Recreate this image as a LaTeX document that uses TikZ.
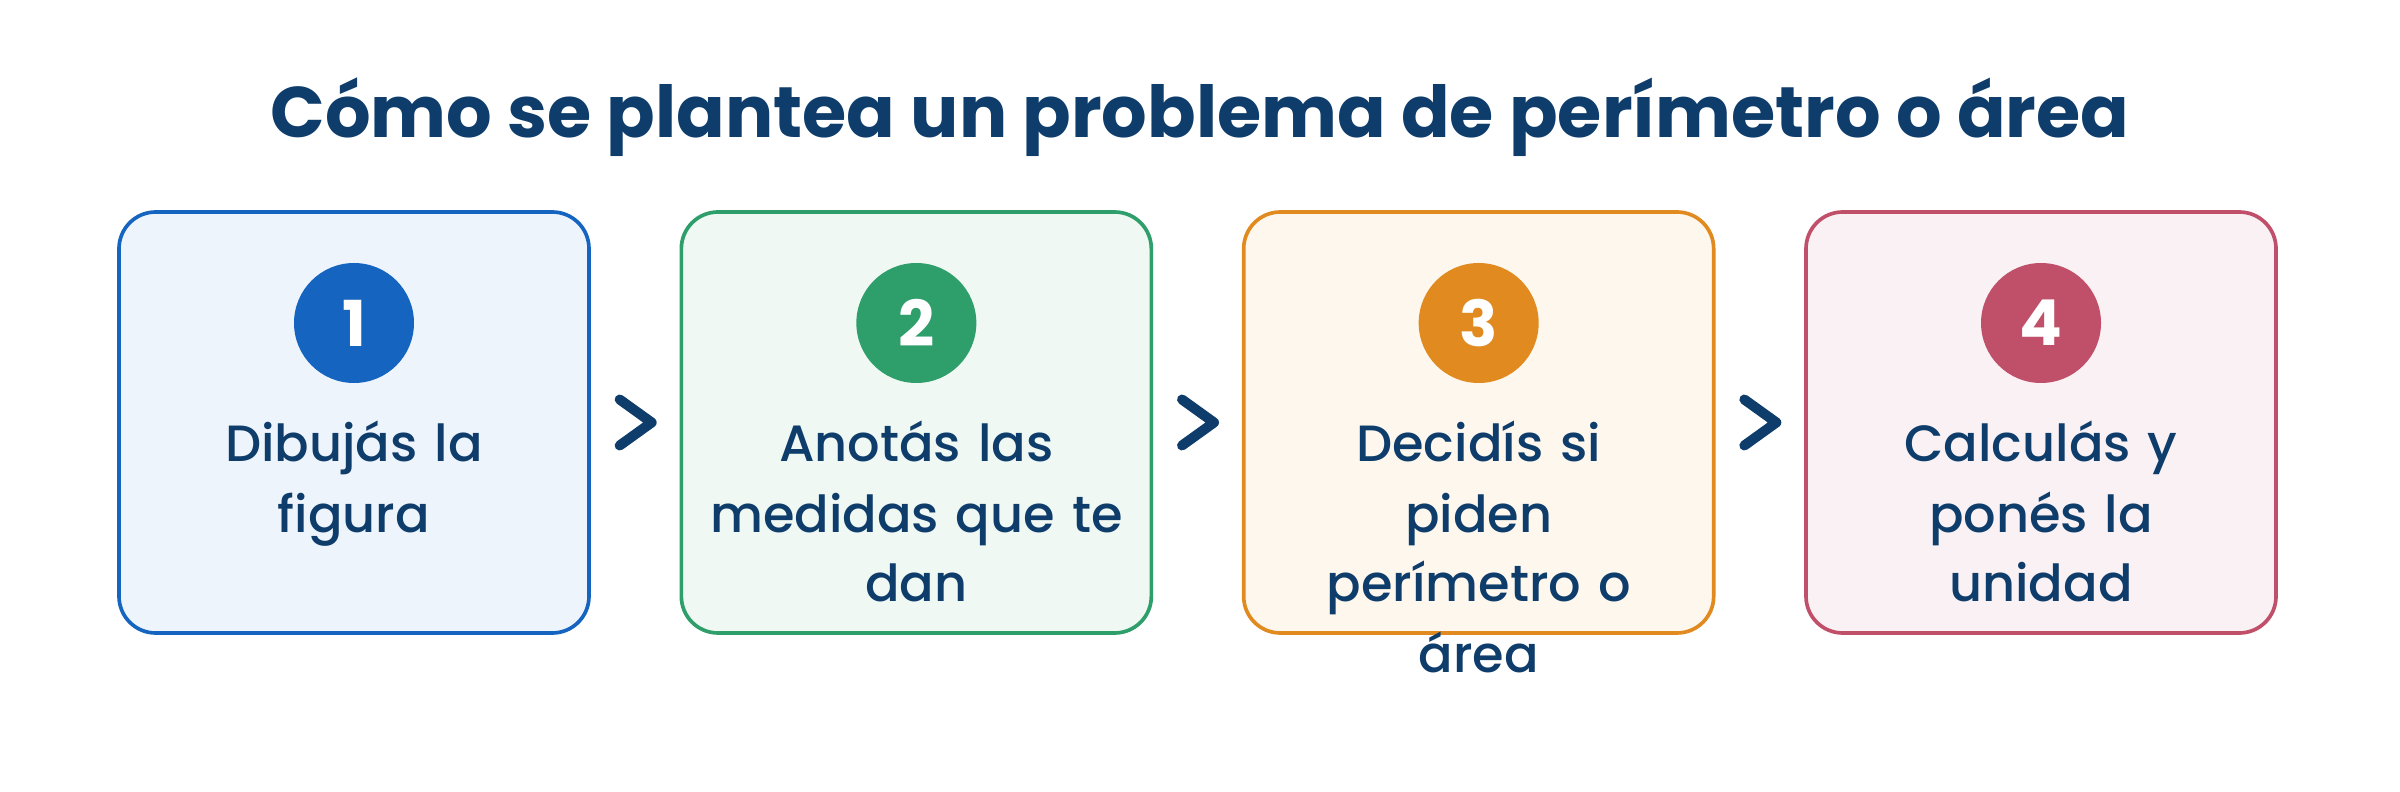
\documentclass[tikz,border=0pt]{standalone}
\usepackage{fontspec}
\setmainfont{Poppins}
\newfontfamily\poppinsmed{Poppins Medium}
\usetikzlibrary{calc}
\definecolor{navy}{HTML}{0F3D6B}
\definecolor{bluec}{HTML}{1565C0}
\definecolor{bluebg}{HTML}{EEF4FC}
\definecolor{greenc}{HTML}{2E9E6B}
\definecolor{greenbg}{HTML}{EFF8F3}
\definecolor{orangec}{HTML}{E08A1F}
\definecolor{orangebg}{HTML}{FDF7EE}
\definecolor{rosec}{HTML}{C0506A}
\definecolor{rosebg}{HTML}{F9F1F4}
\begin{document}
\begin{tikzpicture}
[every node/.style={inner sep=0pt},
 card/.style={rectangle, rounded corners=11pt, minimum width=141pt, minimum height=126.3pt, line width=1.1pt},
 badge/.style={circle, minimum size=36pt, text=white, font=\fontsize{19}{19}\selectfont\bfseries},
 caption/.style={anchor=base, text width=141pt, align=center, text=navy, font=\fontsize{15.3}{21}\poppinsmed},
 chevron/.style={line width=3pt, line cap=round, line join=round, color=navy}]
\useasboundingbox (0pt,0pt) rectangle (720pt,-237.6pt);
\node (title) [anchor=base, text=navy, font=\fontsize{21.5}{21.5}\selectfont\bfseries] at (360pt, -41.4pt) {Cómo se plantea un problema de perímetro o área};
\node (b1) [card, fill=bluebg, draw=bluec] at (106.2pt, -126.75pt) {};
\node (b2) [card, fill=greenbg, draw=greenc] at (274.9pt, -126.75pt) {};
\node (b3) [card, fill=orangebg, draw=orangec] at (443.6pt, -126.75pt) {};
\node (b4) [card, fill=rosebg, draw=rosec] at (612.3pt, -126.75pt) {};
\node (n1) [badge, fill=bluec] at (106.2pt, -96.9pt) {1};
\node (n2) [badge, fill=greenc] at (274.9pt, -96.9pt) {2};
\node (n3) [badge, fill=orangec] at (443.6pt, -96.9pt) {3};
\node (n4) [badge, fill=rosec] at (612.3pt, -96.9pt) {4};
\node (s1) [caption] at (106.2pt, -138.6pt) {Dibujás la\\figura};
\node (s2) [caption] at (274.9pt, -138.6pt) {Anotás las\\medidas que te\\dan};
\node (s3) [caption] at (443.6pt, -138.6pt) {Decidís si\\piden\\perímetro o\\área};
\node (s4) [caption] at (612.3pt, -138.6pt) {Calculás y\\ponés la\\unidad};
\coordinate (m1) at ($(b1.east)!0.5!(b2.west)$);
\coordinate (m2) at ($(b2.east)!0.5!(b3.west)$);
\coordinate (m3) at ($(b3.east)!0.5!(b4.west)$);
\draw [chevron] ($(m1)+(-4.65pt,6.9pt)$) -- ($(m1)+(4.95pt,0pt)$) -- ($(m1)+(-4.65pt,-6.9pt)$);
\draw [chevron] ($(m2)+(-4.65pt,6.9pt)$) -- ($(m2)+(4.95pt,0pt)$) -- ($(m2)+(-4.65pt,-6.9pt)$);
\draw [chevron] ($(m3)+(-4.65pt,6.9pt)$) -- ($(m3)+(4.95pt,0pt)$) -- ($(m3)+(-4.65pt,-6.9pt)$);
\end{tikzpicture}
\end{document}
